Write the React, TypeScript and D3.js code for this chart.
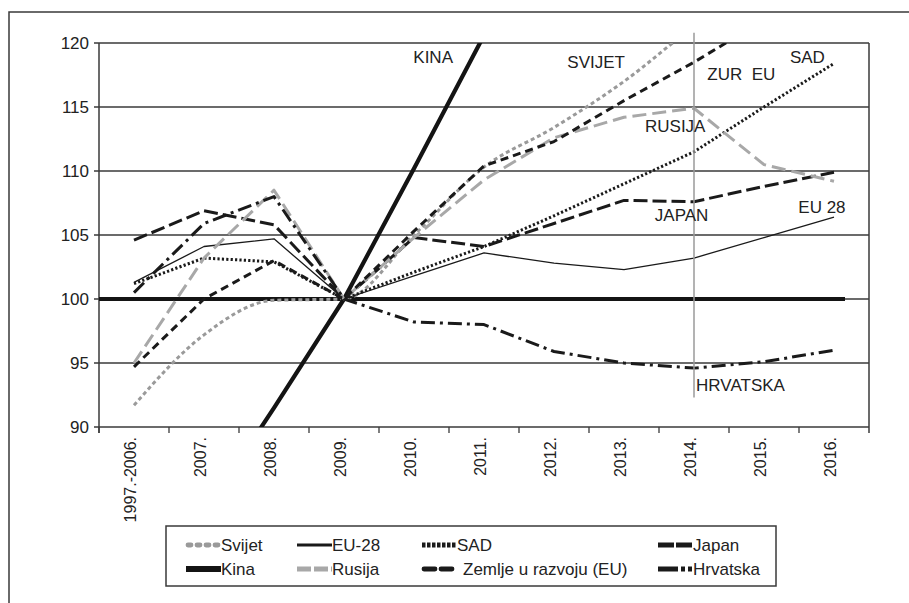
import React from "react";
import * as d3 from "d3";

// categories on the x axis
const categories = [
  "1997.-2006.", "2007.", "2008.", "2009.", "2010.", "2011.",
  "2012.", "2013.", "2014.", "2015.", "2016.",
];
const yTicks = [90, 95, 100, 105, 110, 115, 120];

// index values (2009 = 100)
const svijet = [91.7, 97.2, 99.9, 100, 105.0, 110.3, 113.4, 117.0, 121.3, 125.0, 128.5];
const eu28 = [101.3, 104.1, 104.7, 100, 101.8, 103.6, 102.8, 102.3, 103.2, 104.8, 106.4];
const sad = [101.2, 103.2, 102.9, 100, 102.1, 104.1, 106.5, 109.0, 111.5, 115.0, 118.4];
const japan = [104.6, 106.9, 105.8, 100, 104.8, 104.1, 105.9, 107.7, 107.6, 108.8, 109.9];
const kina = [75.0, 83.2, 91.5, 100, 110.2, 120.6, 130.0, 138.0, 146.0, 154.0, 161.0];
const rusija = [95.0, 103.2, 108.5, 100, 104.8, 109.3, 112.6, 114.2, 114.9, 110.5, 109.2];
const zemlje = [94.7, 100.0, 103.0, 100, 105.3, 110.4, 112.3, 115.5, 118.5, 121.8, 124.5];
const hrvatska = [100.5, 105.9, 108.0, 100, 98.2, 98.0, 95.9, 95.0, 94.6, 95.1, 96.0];

// annotation labels: text, category position, value
const labelTexts = ["KINA", "SVIJET", "ZUR  EU", "SAD", "RUSIJA", "JAPAN", "EU 28", "HRVATSKA"];
const labelAt = [3.99, 6.19, 8.19, 9.37, 7.3, 7.44, 9.49, 8.03];
const labelVal = [118.45, 118.05, 117.1, 118.45, 113.05, 106.1, 106.7, 92.8];

const W = 909;
const H = 603;
const margin = { left: 99, top: 43, right: 40, bottom: 176 };
const FONT = "'Liberation Sans', Arial, sans-serif";

type Style = {
  name: string;
  values: number[];
  stroke: string;
  width: number;
  dash?: string;
  smooth?: boolean;
  legendDash?: string;
  legendCap?: "butt" | "round" | "square";
};

const series: Style[] = [
  { name: "Svijet", values: svijet, stroke: "#9a9a9a", width: 3, dash: "4 3", smooth: true, legendDash: "3 6", legendCap: "round" },
  { name: "EU-28", values: eu28, stroke: "#1a1a1a", width: 1.3 },
  { name: "SAD", values: sad, stroke: "#1a1a1a", width: 3, dash: "2.2 2.2", legendDash: "3.5 1.5" },
  { name: "Japan", values: japan, stroke: "#1a1a1a", width: 3, dash: "14 5", legendDash: "16 2" },
  { name: "Kina", values: kina, stroke: "#141414", width: 4.2 },
  { name: "Rusija", values: rusija, stroke: "#a8a8a8", width: 3, dash: "14 6", legendDash: "14 3" },
  { name: "Zemlje u razvoju (EU)", values: zemlje, stroke: "#1a1a1a", width: 3, dash: "8 5", legendDash: "11 6", legendCap: "round" },
  { name: "Hrvatska", values: hrvatska, stroke: "#1a1a1a", width: 3, dash: "14 5 3 5", legendDash: "20 3 4 3 4 3" },
];

export default function App() {
  const plotW = W - margin.left - margin.right;
  const plotH = H - margin.top - margin.bottom;

  const x = d3.scaleBand().domain(categories).range([margin.left, margin.left + plotW]).padding(0);
  const bw = x.bandwidth();
  const cx = (i: number) => (x(categories[0]) as number) + bw / 2 + i * bw;
  const y = d3.scaleLinear().domain([90, 120]).range([margin.top + plotH, margin.top]);

  const lineFor = (s: Style) =>
    d3
      .line<number>()
      .x((_, i) => cx(i))
      .y((d) => y(d))
      .curve(s.smooth ? d3.curveMonotoneX : d3.curveLinear)(s.values) || "";

  const x0 = margin.left;
  const x1 = margin.left + plotW;
  const yBottom = y(90);
  const lastX = cx(categories.length - 1);

  // legend layout
  const lgX = 166;
  const lgY = 526;
  const colX = [20, 131, 256, 492];
  const rowY = [19, 43];
  const legendRows = [
    ["Svijet", "EU-28", "SAD", "Japan"],
    ["Kina", "Rusija", "Zemlje u razvoju (EU)", "Hrvatska"],
  ];

  return (
    <svg
      width={W}
      height={H}
      style={{ position: "absolute", left: 0, top: 0, background: "#fff" }}
      fontFamily={FONT}
    >
      <defs>
        <clipPath id="plot">
          <rect x={x0} y={margin.top} width={plotW} height={plotH} />
        </clipPath>
      </defs>
      {/* outer frame */}
      <rect x={9} y={12} width={1000} height={1000} fill="none" stroke="#3a3a3a" strokeWidth={1.5} />

      {/* gridlines + y ticks */}
      {yTicks.map((t) => (
        <g key={t}>
          <line x1={x0 - 5} x2={x1} y1={y(t)} y2={y(t)} stroke="#3a3a3a" strokeWidth={1.3} />
          <text x={x0 - 10} y={y(t)} dy="0.36em" textAnchor="end" fontSize={17} fill="#222">
            {t}
          </text>
        </g>
      ))}
      <line x1={x0} x2={x0} y1={margin.top} y2={yBottom + 6} stroke="#3a3a3a" strokeWidth={1.5} />
      <line x1={x1} x2={x1} y1={margin.top} y2={yBottom + 6} stroke="#3a3a3a" strokeWidth={1.5} />

      {/* x ticks + labels */}
      {categories.map((c, i) => (
        <g key={c}>
          <line
            x1={x(c) as number}
            x2={x(c) as number}
            y1={yBottom}
            y2={yBottom + 6}
            stroke="#3a3a3a"
            strokeWidth={1.3}
          />
          <text
            transform={`translate(${cx(i) + 2},${yBottom + 10}) rotate(-90)`}
            textAnchor="end"
            fontSize={16}
            fill="#222"
          >
            {c}
          </text>
        </g>
      ))}

      {/* reference line at 100 */}
      <line x1={x0} x2={lastX + 11} y1={y(100)} y2={y(100)} stroke="#141414" strokeWidth={4} />

      {/* series */}
      <g clipPath="url(#plot)">
        {series.map((s) => (
          <path
            key={s.name}
            d={lineFor(s)}
            fill="none"
            stroke={s.stroke}
            strokeWidth={s.width}
            strokeDasharray={s.dash}
            strokeLinejoin="round"
          />
        ))}
      </g>

      {/* 2014 marker */}
      <line x1={cx(8)} x2={cx(8)} y1={y(120.8)} y2={y(92.3)} stroke="#9a9a9a" strokeWidth={1.5} />

      {/* annotations */}
      {labelTexts.map((t, i) => (
        <text
          key={t}
          x={cx(labelAt[i])}
          y={y(labelVal[i])}
          fontSize={17}
          fill="#222"
          style={{ whiteSpace: "pre" }}
        >
          {t}
        </text>
      ))}

      {/* legend */}
      <g transform={`translate(${lgX},${lgY})`}>
        <rect x={0} y={0} width={610} height={60} fill="#fff" stroke="#3a3a3a" strokeWidth={1.5} />
        {legendRows.map((row, r) =>
          row.map((name, c) => {
            const s = series.find((d) => d.name === name) as Style;
            const sx = colX[c];
            const sy = rowY[r];
            const gap = name.startsWith("Zemlje") ? 6 : 0;
            return (
              <g key={name}>
                <line
                  x1={sx + (s.legendCap === "round" ? 2 : 0)}
                  x2={sx + 35}
                  y1={sy}
                  y2={sy}
                  stroke={s.stroke}
                  strokeWidth={s.width + 1.8}
                  strokeDasharray={s.legendDash}
                  strokeLinecap={s.legendCap || "butt"}
                />
                <text x={sx + 35 + gap} y={sy} dy="0.36em" fontSize={17} fill="#222">
                  {name}
                </text>
              </g>
            );
          })
        )}
      </g>
    </svg>
  );
}
